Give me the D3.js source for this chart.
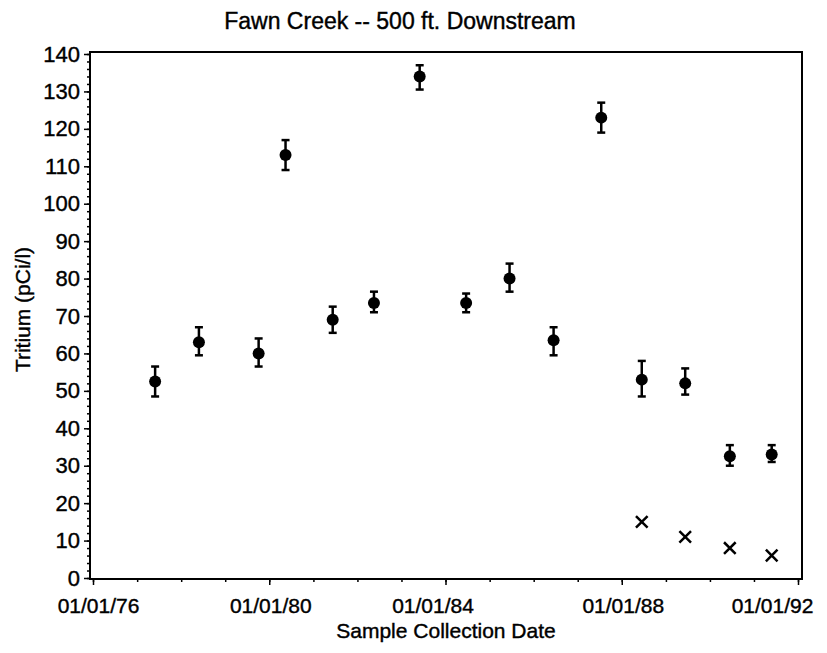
<!DOCTYPE html>
<html>
<head>
<meta charset="utf-8">
<script src="https://cdn.jsdelivr.net/npm/d3@7"></script>
<style>
  body { margin: 0; background: #fff; }
  svg { display: block; }
  text { font-family: "Liberation Sans", Arial, Helvetica, sans-serif; fill: #000; stroke: #000; stroke-width: 0.4px; }
</style>
</head>
<body>
<svg id="chart" width="827" height="653"></svg>
<script>
// sample dates
const sampleDates = [
    "1977-05-30", "1978-05-28", "1979-10-05", "1980-05-15", "1981-06-10",
    "1982-05-18", "1983-06-01", "1984-06-20", "1985-06-15", "1986-06-15",
    "1987-07-15", "1988-06-15", "1989-06-10", "1990-06-15", "1991-05-28"
];
// tritium with error bars (pCi/l)
const tritium = [52.5, 63, 60, 113, 69, 73.5, 134, 73.5, 80, 63.5, 123, 53, 52, 32.5, 33];
const tritiumLow = [48.5, 59.5, 56.5, 109, 65.5, 71, 130.5, 71, 76.5, 59.5, 119, 48.5, 49, 30, 31];
const tritiumHigh = [56.5, 67, 64, 117, 72.5, 76.5, 137, 76, 84, 67, 127, 58, 56, 35.5, 35.5];

// second series drawn as "x"
const xDates = ["1988-06-15", "1989-06-10", "1990-06-15", "1991-05-28"];
const xValues = [15, 11, 8, 6];

const yTicks = d3.range(0, 141, 10);
const xTickYears = [1976, 1980, 1984, 1988, 1992];

const parseDate = d3.timeParse("%Y-%m-%d");
const svg = d3.select("#chart");

const frame = { left: 90, right: 802, top: 52, bottom: 579 };

const x = d3.scaleTime()
    .domain([new Date(1976, 0, 1), new Date(1992, 0, 1)])
    .range([93, 798]);

const y = d3.scaleLinear()
    .domain([0, 140])
    .range([578, 54]);

// title
svg.append("text")
    .attr("x", 400)
    .attr("y", 29)
    .attr("text-anchor", "middle")
    .style("font-size", "23px")
    .text("Fawn Creek -- 500 ft. Downstream");

// y axis, minor ticks first then majors with labels
svg.append("g")
    .attr("transform", `translate(${frame.left},0)`)
    .call(d3.axisLeft(y).tickValues(d3.range(0, 141, 2)).tickSize(3).tickFormat(""))
    .call(g => g.select(".domain").remove())
    .call(g => g.selectAll("line").attr("stroke", "#000").attr("stroke-width", 1.5));

svg.append("g")
    .attr("transform", `translate(${frame.left},0)`)
    .call(d3.axisLeft(y).tickValues(yTicks).tickSize(6).tickPadding(4))
    .call(g => g.select(".domain").remove())
    .call(g => g.selectAll("line").attr("stroke", "#000").attr("stroke-width", 1.5))
    .call(g => g.selectAll("text").style("font-size", "22px"));

// x axis
const yearTicks = d3.range(1976, 1993).map(yr => new Date(yr, 0, 1));
svg.append("g")
    .attr("transform", `translate(0,${frame.bottom})`)
    .call(d3.axisBottom(x).tickValues(yearTicks).tickSize(3).tickFormat(""))
    .call(g => g.select(".domain").remove())
    .call(g => g.selectAll("line").attr("stroke", "#000").attr("stroke-width", 1.5));

// labels sit a little off their ticks in the original (last one pulled in to fit)
const labelShift = { 1976: 5, 1980: 1, 1984: -13, 1988: 1, 1992: -26 };
svg.append("g")
    .attr("transform", `translate(0,${frame.bottom})`)
    .call(d3.axisBottom(x)
        .tickValues(xTickYears.map(yr => new Date(yr, 0, 1)))
        .tickSize(6)
        .tickPadding(13)
        .tickFormat(d3.timeFormat("%m/%d/%y")))
    .call(g => g.select(".domain").remove())
    .call(g => g.selectAll("line").attr("stroke", "#000").attr("stroke-width", 1.5))
    .call(g => g.selectAll("text")
        .style("font-size", "21px")
        .attr("dx", d => labelShift[d.getFullYear()]));

// frame
svg.append("rect")
    .attr("x", frame.left)
    .attr("y", frame.top)
    .attr("width", frame.right - frame.left)
    .attr("height", frame.bottom - frame.top)
    .attr("fill", "none")
    .attr("stroke", "#000")
    .attr("stroke-width", 2);

// axis titles
svg.append("text")
    .attr("x", (frame.left + frame.right) / 2)
    .attr("y", 638)
    .attr("text-anchor", "middle")
    .style("font-size", "21px")
    .text("Sample Collection Date");

svg.append("text")
    .attr("transform", `translate(30,${(frame.top + frame.bottom) / 2 - 6}) rotate(-90)`)
    .attr("text-anchor", "middle")
    .style("font-size", "21px")
    .text("Tritium (pCi/l)");

// error bars + dots
const points = sampleDates.map((d, i) => ({
    date: parseDate(d),
    value: tritium[i],
    low: tritiumLow[i],
    high: tritiumHigh[i]
}));

const capW = 4;
const bars = svg.append("g").attr("stroke", "#000").attr("stroke-width", 2.5);
bars.selectAll("line.stem")
    .data(points)
    .enter()
    .append("line")
    .attr("x1", d => x(d.date))
    .attr("x2", d => x(d.date))
    .attr("y1", d => y(d.low))
    .attr("y2", d => y(d.high));
bars.selectAll("line.top")
    .data(points)
    .enter()
    .append("line")
    .attr("x1", d => x(d.date) - capW)
    .attr("x2", d => x(d.date) + capW)
    .attr("y1", d => y(d.high))
    .attr("y2", d => y(d.high));
bars.selectAll("line.bottom")
    .data(points)
    .enter()
    .append("line")
    .attr("x1", d => x(d.date) - capW)
    .attr("x2", d => x(d.date) + capW)
    .attr("y1", d => y(d.low))
    .attr("y2", d => y(d.low));

svg.append("g")
    .selectAll("circle")
    .data(points)
    .enter()
    .append("circle")
    .attr("cx", d => x(d.date))
    .attr("cy", d => y(d.value))
    .attr("r", 6)
    .attr("fill", "#000");

// x markers
const cross = d3.symbol().type(d3.symbolX).size(90);
svg.append("g")
    .selectAll("path")
    .data(xDates.map((d, i) => ({ date: parseDate(d), value: xValues[i] })))
    .enter()
    .append("path")
    .attr("transform", d => `translate(${x(d.date)},${y(d.value)})`)
    .attr("d", cross)
    .attr("fill", "none")
    .attr("stroke", "#000")
    .attr("stroke-width", 2.5);
</script>
</body>
</html>
